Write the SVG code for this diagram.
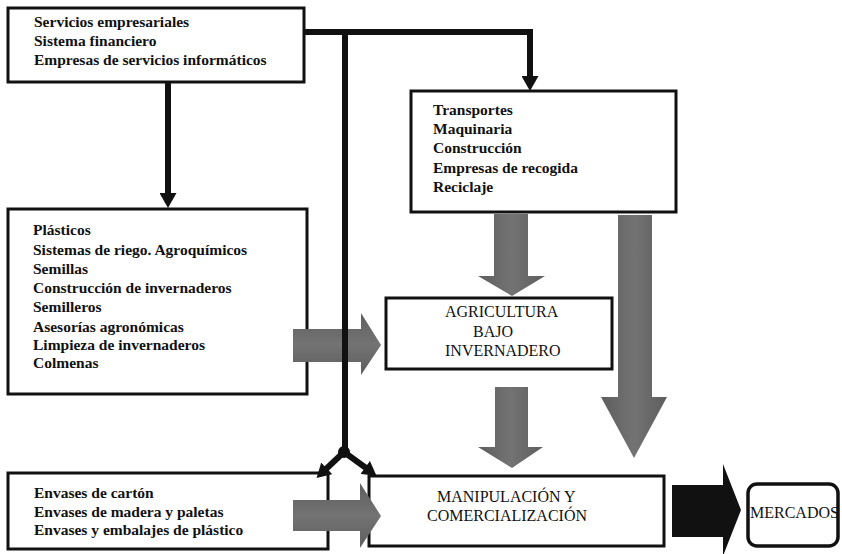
<svg xmlns="http://www.w3.org/2000/svg" width="842" height="554" viewBox="0 0 842 554">
<style>
.box{fill:#fff;stroke:#111;stroke-width:3}
.lst{font-family:"Liberation Serif","Times New Roman",serif;font-weight:bold;font-size:15.5px;fill:#111}
.cap{font-family:"Liberation Serif","Times New Roman",serif;font-size:16px;fill:#111}
.gray{fill:url(#gg)}
.grayv{fill:url(#ggv)}
.blk{fill:#111}
.ln{fill:none;stroke:#111;stroke-width:6}
</style>
<defs>
<linearGradient id="gg" x1="0" y1="0" x2="1" y2="0">
<stop offset="0" stop-color="#5e5e5e"/>
<stop offset="0.5" stop-color="#737373"/>
<stop offset="1" stop-color="#5e5e5e"/>
</linearGradient>
<linearGradient id="ggv" x1="0" y1="0" x2="0" y2="1">
<stop offset="0" stop-color="#5e5e5e"/>
<stop offset="0.5" stop-color="#737373"/>
<stop offset="1" stop-color="#5e5e5e"/>
</linearGradient>
<marker id="ah" markerUnits="userSpaceOnUse" viewBox="0 0 15 17" refX="1" refY="8.5" markerWidth="15" markerHeight="17" orient="auto">
<path d="M0,0 L15,8.5 L0,17 z" fill="#111"/>
</marker>
<marker id="ahs" markerUnits="userSpaceOnUse" viewBox="0 0 14 16" refX="1" refY="8" markerWidth="14" markerHeight="16" orient="auto">
<path d="M0,0 L14,8 L0,16 z" fill="#111"/>
</marker>
</defs>
<rect width="842" height="554" fill="#fff"/>
<g id="n-servicios">
<rect class="box" x="8" y="8" width="296" height="74"/>
<text class="lst" x="34" y="27">Servicios empresariales</text>
<text class="lst" x="34" y="46">Sistema financiero</text>
<text class="lst" x="34" y="65">Empresas de servicios informáticos</text>
</g>
<g id="n-transportes">
<rect class="box" x="411" y="91" width="265" height="121"/>
<text class="lst" x="433" y="115">Transportes</text>
<text class="lst" x="433" y="134">Maquinaria</text>
<text class="lst" x="433" y="153">Construcción</text>
<text class="lst" x="433" y="173">Empresas de recogida</text>
<text class="lst" x="433" y="192">Reciclaje</text>
</g>
<g id="n-plasticos">
<rect class="box" x="8" y="209" width="299" height="185"/>
<text class="lst" x="33" y="235">Plásticos</text>
<text class="lst" x="33" y="255">Sistemas de riego. Agroquímicos</text>
<text class="lst" x="33" y="274">Semillas</text>
<text class="lst" x="33" y="293">Construcción de invernaderos</text>
<text class="lst" x="33" y="312">Semilleros</text>
<text class="lst" x="33" y="332">Asesorías agronómicas</text>
<text class="lst" x="33" y="350">Limpieza de invernaderos</text>
<text class="lst" x="33" y="368">Colmenas</text>
</g>
<g id="n-agricultura">
<rect class="box" x="386" y="298" width="226" height="71"/>
<text class="cap" x="445" y="317" font-size="16.5">AGRICULTURA</text>
<text class="cap" x="473" y="337" font-size="16.5">BAJO</text>
<text class="cap" x="445" y="356" font-size="16.5">INVERNADERO</text>
</g>
<g id="n-envases">
<rect class="box" x="8" y="473" width="320" height="76"/>
<text class="lst" x="34" y="498">Envases de cartón</text>
<text class="lst" x="34" y="517">Envases de madera y paletas</text>
<text class="lst" x="34" y="535">Envases y embalajes de plástico</text>
</g>
<g id="n-manipulacion">
<rect class="box" x="369" y="476" width="295" height="70"/>
<text class="cap" x="437" y="502">MANIPULACIÓN Y</text>
<text class="cap" x="427" y="521">COMERCIALIZACIÓN</text>
</g>
<g id="n-mercados">
<rect x="748" y="484" width="90" height="62" rx="9" fill="#fff" stroke="#111" stroke-width="3.5"/>
<text class="cap" x="750" y="518" font-size="16.5">MERCADOS</text>
</g>
<g id="connectors">
<polygon class="gray" points="494,214 528,214 528,276 545,276 512,296 478,276 494,276"/>
<polygon class="gray" points="618,215 652,215 652,397 667,397 634,458 601,397 618,397"/>
<polygon class="gray" points="495,387 528,387 528,447 543,447 512,468 478,447 495,447"/>
<polygon class="grayv" points="293,329 361,329 361,313 381,345 361,375 361,362 293,362"/>
<polygon class="grayv" points="293,500 360,500 360,483 381,516 360,548 360,531 293,531"/>
<polygon class="blk" points="672,485 723,485 723,464 741,510 723,556 723,537 672,537"/>
<path class="ln" d="M168,82 V194" marker-end="url(#ah)"/>
<path class="ln" d="M304,32 H530 V77" marker-end="url(#ah)"/>
<path class="ln" d="M345,29 V452"/>
<circle cx="344" cy="452" r="6" fill="#111"/>
<path class="ln" d="M344,452 L326,469" stroke-width="5" marker-end="url(#ahs)"/>
<path class="ln" d="M344,452 L366,468" stroke-width="5" marker-end="url(#ahs)"/>
</g>
</svg>
